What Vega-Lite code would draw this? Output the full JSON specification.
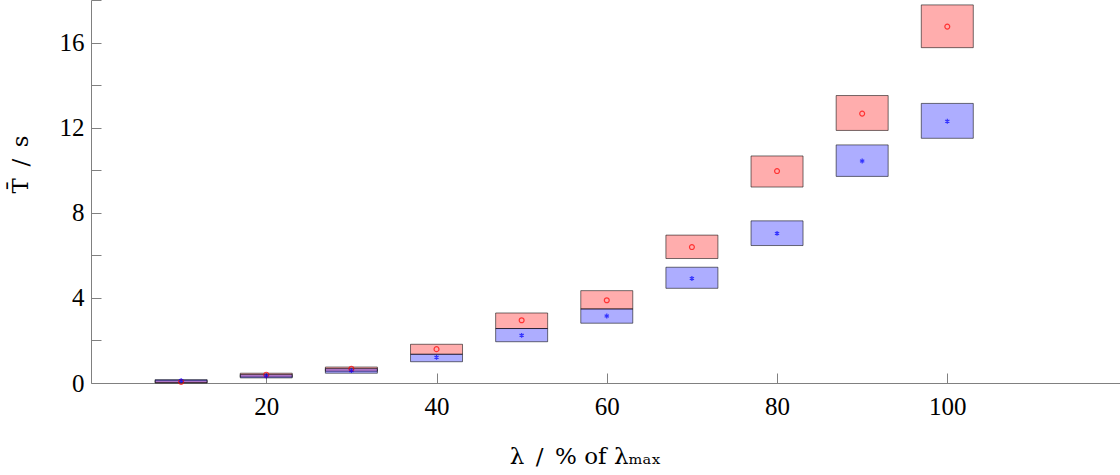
{
  "$schema": "https://vega.github.io/schema/vega-lite/v6.json",
  "autosize": "none",
  "width": 1029,
  "height": 383,
  "padding": {"left": 91, "top": 0, "right": 0, "bottom": 92},
  "background": "white",
  "config": {
    "view": {"stroke": null},
    "font": "Liberation Serif",
    "axis": {
      "grid": false,
      "domainColor": "#808080",
      "tickColor": "#808080",
      "tickSize": -10,
      "labelFont": "Liberation Serif",
      "labelFontSize": 25,
      "labelColor": "black",
      "titleFont": "DejaVu Serif",
      "titleFontSize": 23,
      "titleFontWeight": "normal",
      "titleColor": "black"
    }
  },
  "data": {
    "values": [
      {"x": 10, "series": "red", "lo": 0.0, "hi": 0.12, "mean": 0.05},
      {"x": 10, "series": "blue", "lo": 0.02, "hi": 0.16, "mean": 0.12},
      {"x": 20, "series": "red", "lo": 0.28, "hi": 0.46, "mean": 0.39},
      {"x": 20, "series": "blue", "lo": 0.24, "hi": 0.40, "mean": 0.33},
      {"x": 30, "series": "red", "lo": 0.55, "hi": 0.75, "mean": 0.67},
      {"x": 30, "series": "blue", "lo": 0.46, "hi": 0.68, "mean": 0.58},
      {"x": 40, "series": "red", "lo": 1.35, "hi": 1.82, "mean": 1.59},
      {"x": 40, "series": "blue", "lo": 1.0, "hi": 1.35, "mean": 1.21},
      {"x": 50, "series": "red", "lo": 2.56, "hi": 3.29, "mean": 2.95},
      {"x": 50, "series": "blue", "lo": 1.94, "hi": 2.56, "mean": 2.24},
      {"x": 60, "series": "red", "lo": 3.48, "hi": 4.34, "mean": 3.89},
      {"x": 60, "series": "blue", "lo": 2.81, "hi": 3.48, "mean": 3.15},
      {"x": 70, "series": "red", "lo": 5.85, "hi": 6.95, "mean": 6.39},
      {"x": 70, "series": "blue", "lo": 4.45, "hi": 5.44, "mean": 4.91},
      {"x": 80, "series": "red", "lo": 9.21, "hi": 10.67, "mean": 9.96},
      {"x": 80, "series": "blue", "lo": 6.46, "hi": 7.62, "mean": 7.03},
      {"x": 90, "series": "red", "lo": 11.87, "hi": 13.51, "mean": 12.66},
      {"x": 90, "series": "blue", "lo": 9.71, "hi": 11.19, "mean": 10.43},
      {"x": 100, "series": "red", "lo": 15.76, "hi": 17.77, "mean": 16.75},
      {"x": 100, "series": "blue", "lo": 11.50, "hi": 13.14, "mean": 12.30}
    ]
  },
  "layer": [
    {
      "mark": {"type": "bar", "width": 52, "fillOpacity": 0.32, "stroke": "black", "strokeOpacity": 0.55, "strokeWidth": 1, "clip": false},
      "encoding": {
        "x": {
          "field": "x", "type": "quantitative",
          "scale": {"domain": [0, 119.7], "nice": false, "zero": false},
          "axis": {
            "values": [20, 40, 60, 80, 100],
            "title": "λ\u2002/\u2002% of λₘₐₓ",
            "labelPadding": 21,
            "titleX": 494,
            "titleY": 80,
            "titleBaseline": "alphabetic",
            "titleAnchor": "middle"
          }
        },
        "y": {
          "field": "lo", "type": "quantitative",
          "scale": {"domain": [0, 18], "nice": false},
          "axis": {
            "values": [0, 2, 4, 6, 8, 10, 12, 14, 16, 18],
            "labelExpr": "datum.value % 4 == 0 ? datum.label : ''",
            "title": "T̄\u2002/\u2002s",
            "labelPadding": 17,
            "titleX": -64,
            "titleY": 164,
            "titleAngle": -90,
            "titleBaseline": "alphabetic",
            "titleAnchor": "middle"
          }
        },
        "y2": {"field": "hi"},
        "fill": {
          "field": "series", "type": "nominal",
          "scale": {"domain": ["red", "blue"], "range": ["#ff0000", "#0000ff"]},
          "legend": null
        }
      }
    },
    {
      "mark": {"type": "point", "filled": false, "strokeWidth": 1.2, "size": 24},
      "encoding": {
        "x": {"field": "x", "type": "quantitative"},
        "y": {"field": "mean", "type": "quantitative"},
        "stroke": {
          "field": "series", "type": "nominal",
          "scale": {"domain": ["red", "blue"], "range": ["#ff0000", "#0000ff"]},
          "legend": null
        },
        "shape": {
          "field": "series", "type": "nominal",
          "scale": {"domain": ["red", "blue"], "range": ["circle", "M0,-1L0,1M-0.87,-0.5L0.87,0.5M-0.87,0.5L0.87,-0.5"]},
          "legend": null
        }
      }
    }
  ]
}
